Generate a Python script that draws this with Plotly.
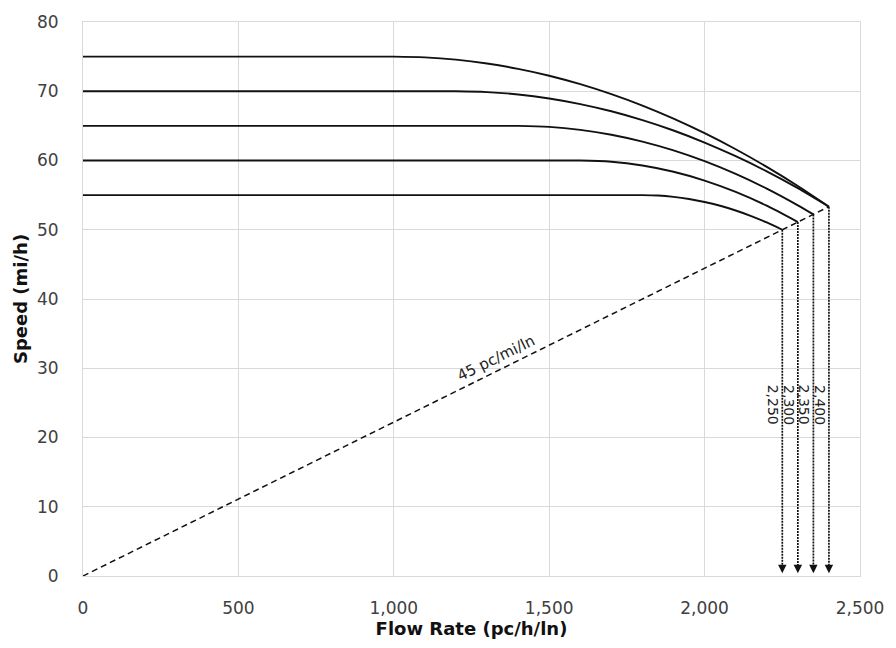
import plotly.graph_objects as go

# Speed-flow curves (flow pc/h/ln, speed mi/h)
flow_75 = [0, 1000, 1100, 1200, 1300, 1400, 1500, 1600, 1700, 1800, 1900, 2000, 2100, 2200, 2300, 2400]
speed_75 = [75, 75, 74.89, 74.56, 74.00, 73.23, 72.24, 71.02, 69.58, 67.93, 66.04, 63.94, 61.62, 59.08, 56.32, 53.33]

flow_70 = [0, 1200, 1300, 1400, 1500, 1600, 1700, 1800, 1900, 2000, 2100, 2200, 2300, 2400]
speed_70 = [70, 70, 69.88, 69.54, 68.96, 68.15, 67.11, 65.83, 64.33, 62.59, 60.62, 58.43, 56.00, 53.33]

flow_65 = [0, 1400, 1500, 1600, 1700, 1800, 1900, 2000, 2100, 2200, 2300, 2350]
speed_65 = [65, 65, 64.86, 64.43, 63.72, 62.73, 61.46, 59.90, 58.06, 55.94, 53.53, 52.22]

flow_60 = [0, 1600, 1700, 1800, 1900, 2000, 2100, 2200, 2300]
speed_60 = [60, 60, 59.82, 59.27, 58.37, 57.10, 55.46, 53.47, 51.11]

flow_55 = [0, 1800, 1850, 1900, 1950, 2000, 2050, 2100, 2150, 2200, 2250]
speed_55 = [55, 55, 54.94, 54.75, 54.44, 54.01, 53.46, 52.78, 51.98, 51.05, 50.00]

# Capacity points (arrows) and density line
cap_flow = [2250, 2300, 2350, 2400]
cap_speed = [50.00, 51.11, 52.22, 53.33]
cap_labels = ["2,250", "2,300", "2,350", "2,400"]
density_flow = [0, 2400]
density_speed = [0, 53.33]
density_label = "45 pc/mi/ln"

x_ticks = [0, 500, 1000, 1500, 2000, 2500]
x_ticktext = ["0", "500", "1,000", "1,500", "2,000", "2,500"]
y_ticks = [0, 10, 20, 30, 40, 50, 60, 70, 80]

fig = go.Figure()

curves = [(flow_75, speed_75), (flow_70, speed_70), (flow_65, speed_65),
          (flow_60, speed_60), (flow_55, speed_55)]
for fx, sy in curves:
    fig.add_trace(go.Scatter(x=fx, y=sy, mode="lines",
                             line=dict(color="#111111", width=1.9, shape="spline", smoothing=0.6),
                             showlegend=False, hoverinfo="skip"))

fig.add_trace(go.Scatter(x=density_flow, y=density_speed, mode="lines",
                         line=dict(color="#111111", width=1.5, dash="6px,4px"),
                         showlegend=False, hoverinfo="skip"))

for cf, cs in zip(cap_flow, cap_speed):
    fig.add_trace(go.Scatter(x=[cf, cf], y=[cs, 0.8], mode="lines",
                             line=dict(color="#111111", width=1.7, dash="2px,1px"),
                             showlegend=False, hoverinfo="skip"))
    fig.add_annotation(x=cf, y=0.4, ax=cf, ay=1.6, xref="x", yref="y",
                       axref="x", ayref="y", text="", showarrow=True,
                       arrowhead=2, arrowsize=1.2, arrowwidth=1.4, arrowcolor="#111111")

for cf, lab in zip(cap_flow, cap_labels):
    fig.add_annotation(x=cf, y=24.7, text=lab, showarrow=False, textangle=90,
                       xshift=-9, font=dict(family="DejaVu Sans", size=14, color="#222222"))

fig.add_annotation(x=1330, y=1330 / 45, text=density_label, showarrow=False,
                   textangle=-26.3, yshift=13,
                   font=dict(family="DejaVu Sans", size=15, color="#222222"))

fig.update_layout(
    width=896, height=648,
    margin=dict(l=83, r=30, t=19, b=72),
    paper_bgcolor="white", plot_bgcolor="white",
    font=dict(family="DejaVu Sans", color="#404040"),
    xaxis=dict(range=[0, 2500], tickvals=x_ticks, ticktext=x_ticktext,
               showgrid=True, gridcolor="#d9d9d9", gridwidth=1,
               showline=True, linecolor="#d9d9d9", mirror=True, zeroline=False,
               ticks="", ticklabelstandoff=17, tickfont=dict(size=17, color="#404040"),
               title=dict(text="<b>Flow Rate (pc/h/ln)</b>", standoff=3,
                          font=dict(size=18, color="#111111"))),
    yaxis=dict(range=[0, 80], tickvals=y_ticks,
               showgrid=True, gridcolor="#d9d9d9", gridwidth=1,
               showline=True, linecolor="#d9d9d9", mirror=True, zeroline=False,
               ticks="", ticklabelstandoff=20, tickfont=dict(size=17, color="#404040"),
               title=dict(text="<b>Speed (mi/h)</b>", standoff=4,
                          font=dict(size=18, color="#111111"))),
)

fig.write_html("out.html", config={"displayModeBar": False},
               post_script="document.body.style.margin='0';document.body.style.overflow='hidden';")
